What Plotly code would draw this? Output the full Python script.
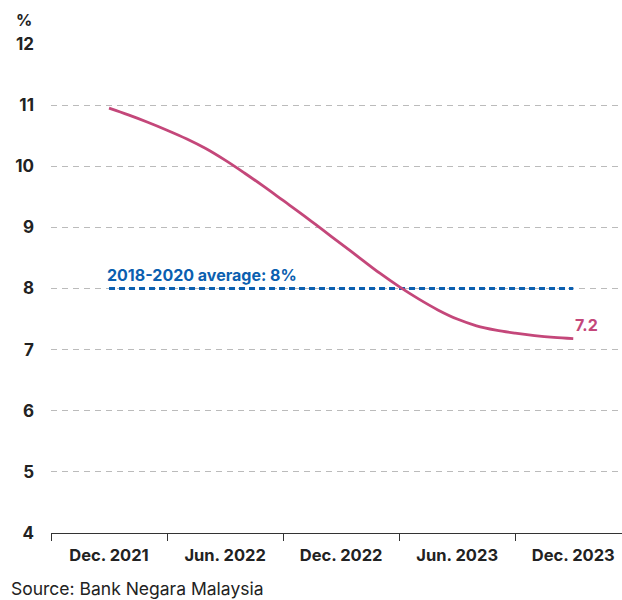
import plotly.graph_objects as go

# ---- data ----
tick_labels = ["Dec. 2021", "Jun. 2022", "Dec. 2022", "Jun. 2023", "Dec. 2023"]
# monthly values Dec 2021 .. Dec 2023 (%)
values = [10.95, 10.84, 10.72, 10.59, 10.45, 10.29, 10.10, 9.89, 9.67, 9.44,
          9.21, 8.97, 8.73, 8.49, 8.25, 8.03, 7.83, 7.65, 7.50, 7.39,
          7.32, 7.27, 7.23, 7.20, 7.18]
average_value = 8.0
average_label = "2018-2020 average: 8%"
last_label = "7.2"
source = "Source: Bank Negara Malaysia"

months = [i / 6 for i in range(len(values))]

PINK = "#C4477A"
BLUE = "#0B5FB0"
DARK = "#222222"
FONT = "Inter"

W, H = 622, 600
ml, mr, mt, mb = 51, 0, 44, 67
pw, ph = W - ml - mr, H - mt - mb

def px_x(p):
    return (p - ml) / pw

def px_y(p):
    return (H - mb - p) / ph

fig = go.Figure()
fig.add_trace(go.Scatter(
    x=[0, 4], y=[average_value, average_value], mode="lines",
    line=dict(color=BLUE, width=3, dash="6px,4px"), hoverinfo="skip",
    showlegend=False))
fig.add_trace(go.Scatter(
    x=months, y=values, mode="lines",
    line=dict(color=PINK, width=2.8, shape="spline", smoothing=1.0),
    showlegend=False))

fig.add_annotation(x=0, y=average_value, xref="x", yref="y", text=f"<b>{average_label}</b>",
                   showarrow=False, xanchor="left", yanchor="bottom", xshift=-4, yshift=2,
                   font=dict(family=FONT, size=16, color=BLUE))
fig.add_annotation(x=months[-1], y=values[-1], xref="x", yref="y", text=f"<b>{last_label}</b>",
                   showarrow=False, xanchor="left", yanchor="middle", xshift=0, yshift=14,
                   font=dict(family=FONT, size=16, color=PINK))
fig.add_annotation(x=px_x(14), y=px_y(20), xref="paper", yref="paper", text="<b>%</b>",
                   showarrow=False, xanchor="left", yanchor="middle",
                   font=dict(family=FONT, size=16, color=DARK))
fig.add_annotation(x=px_x(9), y=px_y(588), xref="paper", yref="paper", text=source,
                   showarrow=False, xanchor="left", yanchor="middle",
                   font=dict(family=FONT, size=17.5, color=DARK))

fig.update_layout(
    width=W, height=H, margin=dict(l=ml, r=mr, t=mt, b=mb, autoexpand=False),
    paper_bgcolor="white", plot_bgcolor="white",
    font=dict(family=FONT, color=DARK),
    xaxis=dict(range=[-0.5, 4.42], tickvals=[0, 1, 2, 3, 4],
               ticktext=[f"<b>{t}</b>" for t in tick_labels], ticks="",
               showgrid=False, zeroline=False, showline=True, linecolor="#333333", linewidth=1.2,
               tickfont=dict(family=FONT, size=16.5, color=DARK), ticklabelstandoff=7,
               minor=dict(tickvals=[-0.5, 0.5, 1.5, 2.5, 3.5], ticks="outside", ticklen=7,
                          tickwidth=1.2, tickcolor="#333333", showgrid=False)),
    yaxis=dict(range=[4, 12], tickvals=list(range(4, 13)),
               ticktext=[f"<b>{v}</b>" for v in range(4, 13)], ticks="",
               showgrid=True, gridcolor="#BBBBBB", gridwidth=1, griddash="6px,5px",
               zeroline=False, showline=False,
               tickfont=dict(family=FONT, size=17, color=DARK), ticklabelstandoff=16),
)

fig.write_html("out.html")
